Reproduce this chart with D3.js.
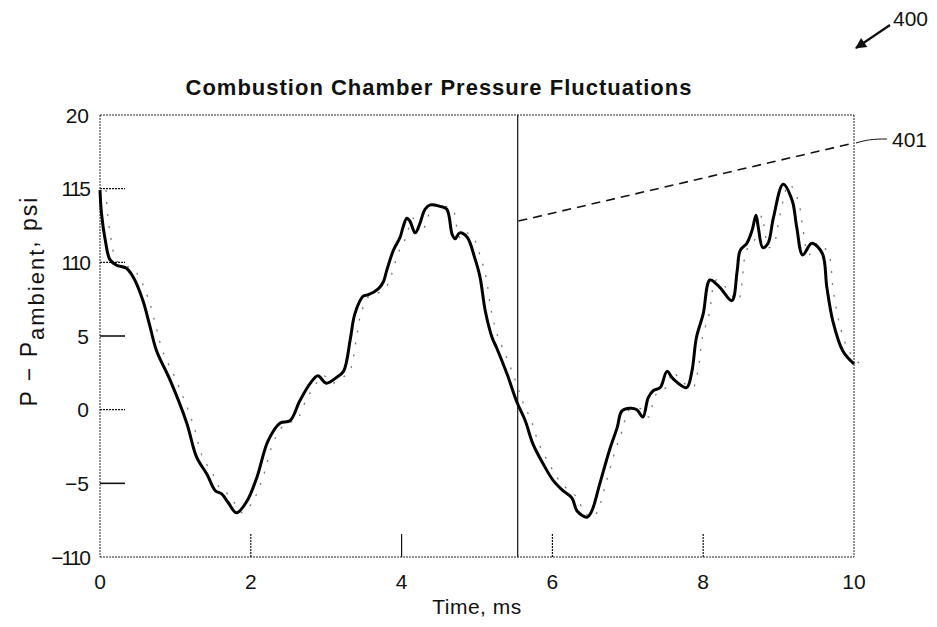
<!DOCTYPE html>
<html><head><meta charset="utf-8">
<script src="https://cdn.jsdelivr.net/npm/d3@7"></script>
<style>
html,body{margin:0;padding:0;background:#fff;}
svg{display:block;font-family:"Liberation Sans",Arial,sans-serif;}
</style></head>
<body>
<svg id="chart" width="937" height="627"></svg>
<script>
// ---- data ----
const timeMs = [0,0.02,0.07,0.13,0.22,0.35,0.44,0.57,0.66,0.75,0.93,1.15,1.28,1.42,1.53,1.61,1.70,1.81,1.95,2.08,2.23,2.39,2.52,2.65,2.79,2.89,3.0,3.14,3.23,3.32,3.38,3.49,3.56,3.69,3.76,3.80,3.89,3.98,4.02,4.07,4.11,4.18,4.24,4.31,4.38,4.51,4.60,4.67,4.71,4.77,4.87,4.97,5.04,5.11,5.20,5.26,5.40,5.53,5.64,5.74,5.88,6.01,6.14,6.26,6.33,6.46,6.52,6.63,6.76,6.86,6.92,7.03,7.12,7.20,7.27,7.34,7.43,7.52,7.60,7.78,7.85,7.91,8.0,8.09,8.22,8.38,8.45,8.49,8.58,8.65,8.70,8.73,8.79,8.86,8.93,9.06,9.18,9.24,9.32,9.44,9.58,9.64,9.72,9.85,10.0];
const pressurePsi = [14.9,13.3,11.5,10.2,9.8,9.6,9.0,7.4,5.7,4.0,2.0,-0.9,-3.2,-4.4,-5.5,-5.7,-6.3,-7.0,-6.2,-4.6,-2.1,-0.9,-0.75,0.6,1.8,2.3,1.8,2.2,2.6,4.8,6.5,7.7,7.8,8.2,8.7,9.4,10.8,11.7,12.4,13.0,12.8,12.0,12.6,13.6,13.9,13.8,13.6,11.9,11.6,12.0,11.7,10.3,9.0,6.7,4.9,4.2,2.4,0.5,-0.75,-2.3,-3.7,-4.8,-5.5,-6.0,-6.9,-7.3,-6.9,-5.0,-2.7,-1.2,-0.1,0.1,0.0,-0.5,0.8,1.3,1.5,2.6,2.1,1.5,2.6,4.9,6.5,8.8,8.3,7.4,9.4,10.8,11.3,12.2,13.2,12.4,11.0,11.3,13.0,15.3,14.2,12.4,10.5,11.3,10.6,8.3,6.0,4.0,3.1];
const trendTime = [5.55, 10];
const trendPsi = [12.8, 18.1];
const markerTime = 5.54;
const xTicks = [0,2,4,6,8,10];
const xTickLabels = ["0","2","4","6","8","10"];
const yTicks = [20,15,10,5,0,-5,-10];
const yTickLabels = ["20","115","110","5","0","\u22125","\u2212110"];
const xTickStyle = ["solid","dash","solid","dash","dash","dash"];
const yTickStyle = ["solid","dash","dash","solid","dash","solid","solid"];
const titleText = "Combustion Chamber Pressure Fluctuations";
const xLabelText = "Time, ms";
const figureRef = "400";
const lineRef = "401";

// ---- layout ----
const svg = d3.select("#chart");
const L = 100, R = 854, T = 115, B = 557;
const x = d3.scaleLinear().domain([0,10]).range([L,R]);
const y = d3.scaleLinear().domain([-10,20]).range([B,T]);
const pts = timeMs.map((t,i)=>[t, pressurePsi[i]]);
const line = d3.line().x(d=>x(d[0])).y(d=>y(d[1])).curve(d3.curveCatmullRom.alpha(0.5));

// frame (thin dotted)
const frame = svg.append("g").attr("stroke","#222").attr("stroke-width",1).attr("fill","none");
frame.append("line").attr("x1",L).attr("x2",R).attr("y1",T).attr("y2",T).attr("stroke-dasharray","2,1");
frame.append("line").attr("x1",L).attr("x2",R).attr("y1",B).attr("y2",B).attr("stroke-dasharray","2,1");
frame.append("line").attr("x1",L).attr("x2",L).attr("y1",T).attr("y2",B).attr("stroke-dasharray","2,1");
frame.append("line").attr("x1",R).attr("x2",R).attr("y1",T).attr("y2",B).attr("stroke-dasharray","2,1");

// y ticks (inward) and labels
yTicks.forEach((v,i)=>{
  if (v!==20 && v!==-10) {
    svg.append("line").attr("x1",L).attr("x2",L+25).attr("y1",y(v)).attr("y2",y(v))
      .attr("stroke","#111").attr("stroke-width", yTickStyle[i]==="solid"?1.6:1.2)
      .attr("stroke-dasharray", yTickStyle[i]==="solid"?null:"2,1");
  }
  svg.append("text").attr("x",L-11).attr("y",y(v)).attr("dy","0.36em")
    .attr("text-anchor","end").attr("font-size",21).attr("letter-spacing", yTickLabels[i].length>2?"-2px":"0")
    .attr("fill","#111").text(yTickLabels[i]);
});
// x ticks (inward) and labels
xTicks.forEach((v,i)=>{
  if (v!==0 && v!==10) {
    svg.append("line").attr("x1",x(v)).attr("x2",x(v)).attr("y1",B).attr("y2",B-23)
      .attr("stroke","#111").attr("stroke-width",1.2)
      .attr("stroke-dasharray", xTickStyle[i]==="solid"?null:"2,1");
  }
  svg.append("text").attr("x",x(v)).attr("y",B+32).attr("text-anchor","middle")
    .attr("font-size",21).attr("fill","#111").text(xTickLabels[i]);
});

// vertical marker line
svg.append("line").attr("x1",x(markerTime)).attr("x2",x(markerTime)).attr("y1",T).attr("y2",B)
  .attr("stroke","#111").attr("stroke-width",1.2);

// trend dashed line 401
svg.append("path").datum(trendTime.map((t,i)=>[t,trendPsi[i]]))
  .attr("d", d3.line().x(d=>x(d[0])).y(d=>y(d[1])))
  .attr("fill","none").attr("stroke","#111").attr("stroke-width",1.6).attr("stroke-dasharray","9,6");

// faint dotted trace (scan shadow)
svg.append("path").datum(pts).attr("d",line).attr("transform","translate(6,0)")
  .attr("fill","none").attr("stroke","#777").attr("stroke-width",1.3).attr("stroke-dasharray","2,10");

// main curve
svg.append("path").datum(pts).attr("d",line)
  .attr("fill","none").attr("stroke","#000").attr("stroke-width",3).attr("stroke-linejoin","round");

// title
svg.append("text").attr("x",439).attr("y",95).attr("text-anchor","middle")
  .attr("font-size",22).attr("letter-spacing","1px").attr("font-weight","bold").attr("fill","#111").text(titleText);

// x label
svg.append("text").attr("x",(L+R)/2).attr("y",614).attr("text-anchor","middle")
  .attr("font-size",21).attr("letter-spacing","0.5px").attr("fill","#111").text(xLabelText);

// y label
const yl = svg.append("text").attr("transform","translate(37,301) rotate(-90)")
  .attr("text-anchor","middle").attr("font-size",23).attr("letter-spacing","2px").attr("fill","#111");
yl.append("tspan").text("P \u2212 P");
yl.append("tspan").attr("dy",7).attr("font-size",22).text("ambient");
yl.append("tspan").attr("dy",-7).text(", psi");

// 401 leader and label
svg.append("path").attr("d",`M${R+2},${y(trendPsi[1])} C${R+12},${y(trendPsi[1])-3} ${R+18},${y(trendPsi[1])-4} ${R+33},${y(trendPsi[1])-4}`)
  .attr("fill","none").attr("stroke","#111").attr("stroke-width",1);
svg.append("text").attr("x",R+38).attr("y",y(trendPsi[1])+4).attr("font-size",21).attr("fill","#111").text(lineRef);

// 400 label and arrow
svg.append("defs").append("marker").attr("id","ah").attr("viewBox","0 0 10 10")
  .attr("refX",9).attr("refY",5).attr("markerWidth",7).attr("markerHeight",5).attr("orient","auto")
  .attr("markerUnits","strokeWidth")
  .append("path").attr("d","M0,0 L10,5 L0,10 Z").attr("fill","#111");
svg.append("line").attr("x1",890).attr("y1",25).attr("x2",856).attr("y2",48)
  .attr("stroke","#111").attr("stroke-width",2.2).attr("marker-end","url(#ah)");
svg.append("text").attr("x",893).attr("y",26).attr("font-size",21).attr("fill","#111").text(figureRef);
</script>
</body></html>
